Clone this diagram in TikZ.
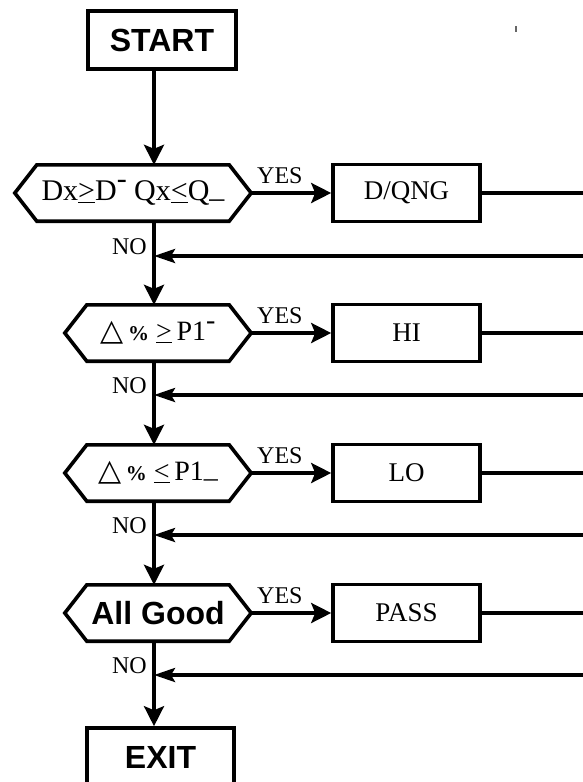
\documentclass[tikz,border=0pt]{standalone}
\usepackage{fontspec}
\setmainfont{Liberation Serif}
\newfontfamily\hsans{Liberation Sans}
\newfontfamily\symf{DejaVu Sans}
\usetikzlibrary{arrows.meta}
\newcommand\hexoutline[2]{\draw[ln,line join=miter] (#1.west) -- ([xshift=#2]#1.north west) -- ([xshift=-#2]#1.north east) -- (#1.east) -- ([xshift=-#2]#1.south east) -- ([xshift=#2]#1.south west) -- cycle;}
\newcommand\tri{{\symf\fontsize{30}{30}\selectfont △}}
\newcommand\pct{{\bfseries\fontsize{21}{21}\selectfont\%}}
\newcommand\hibar{\raisebox{.42em}{-}}
\newcommand\lobar{\raisebox{.12em}{\_}}
\begin{document}
\begin{tikzpicture}[x=1pt,y=-1pt,
  ln/.style={line width=3.6pt},
  arr/.style={ln,-{Stealth[length=20pt,width=20pt,inset=4pt]}},
  rarr/.style={ln,-{Stealth[length=21pt,width=14pt,inset=4pt]}},
  termbox/.style={draw,ln,minimum width=148pt,minimum height=58pt,inner sep=0pt,font=\hsans\bfseries\fontsize{32}{32}\selectfont},
  procbox/.style={draw,ln,minimum width=147pt,minimum height=57pt,inner sep=0pt,font=\fontsize{27}{27}\selectfont},
  hexnode/.style={inner sep=0pt,minimum height=56pt,font=\fontsize{28}{28}\selectfont},
  lab/.style={inner sep=0pt,font=\fontsize{24}{24}\selectfont}]
\useasboundingbox (0,0) rectangle (582,782);
% terminals
\node[termbox] (start) at (162,40) {START};
\node[termbox,minimum width=147pt] (exit) at (160.5,757) {EXIT};
% decisions
\node[hexnode,minimum width=236pt,font=\fontsize{30}{30}\selectfont] (d1) at (133,193) {Dx\underline{>}D\hibar\ Qx\underline{<}Q\lobar};
\node[hexnode,minimum width=186pt] (d2) at (158,333) {\tri\,\pct\ \underline{>}\,P1\hibar};
\node[hexnode,minimum width=186pt] (d3) at (158,473) {\tri\,\pct\ \underline{<}\,P1\lobar};
\node[hexnode,minimum width=186pt,font=\hsans\bfseries\fontsize{32}{32}\selectfont] (d4) at (158,613) {All Good};
\hexoutline{d1}{22pt}
\hexoutline{d2}{22pt}
\hexoutline{d3}{22pt}
\hexoutline{d4}{22pt}
% process boxes
\node[procbox] (b1) at (406.5,193) {D/QNG};
\node[procbox] (b2) at (406.5,333) {HI};
\node[procbox] (b3) at (406.5,473) {LO};
\node[procbox] (b4) at (406.5,613) {PASS};
% junctions on main line
\coordinate (j1) at (154,256);
\coordinate (j2) at (154,395);
\coordinate (j3) at (154,535);
\coordinate (j4) at (154,675);
% free ends at right edge
\coordinate (e1) at (592,193);
\coordinate (e2) at (592,333);
\coordinate (e3) at (592,473);
\coordinate (e4) at (592,613);
\coordinate (r1) at (592,256);
\coordinate (r2) at (592,395);
\coordinate (r3) at (592,535);
\coordinate (r4) at (592,675);
% main flow
\draw[arr] (start.south -| j1) -- (d1.north -| j1);
\draw[ln] (d1.south -| j1) -- (j1);
\draw[arr] (j1) -- (d2.north -| j1);
\draw[ln] (d2.south -| j2) -- (j2);
\draw[arr] (j2) -- (d3.north -| j2);
\draw[ln] (d3.south -| j3) -- (j3);
\draw[arr] (j3) -- (d4.north -| j3);
\draw[ln] (d4.south -| j4) -- (j4);
\draw[arr] (j4) -- (exit.north -| j4);
% yes branches
\draw[arr] (d1.east) -- (b1.west);
\draw[arr] (d2.east) -- (b2.west);
\draw[arr] (d3.east) -- (b3.west);
\draw[arr] (d4.east) -- (b4.west);
\draw[ln] (b1.east) -- (e1);
\draw[ln] (b2.east) -- (e2);
\draw[ln] (b3.east) -- (e3);
\draw[ln] (b4.east) -- (e4);
% returns
\draw[rarr] (r1) -- (j1);
\draw[rarr] (r2) -- (j2);
\draw[rarr] (r3) -- (j3);
\draw[rarr] (r4) -- (j4);
% labels
\node[lab,anchor=base west] (y1) at (257,183) {YES};
\node[lab,anchor=base west] (y2) at (257,323) {YES};
\node[lab,anchor=base west] (y3) at (257,463) {YES};
\node[lab,anchor=base west] (y4) at (257,603) {YES};
\node[lab,anchor=base east] (n1) at (147,254) {NO};
\node[lab,anchor=base east] (n2) at (147,393) {NO};
\node[lab,anchor=base east] (n3) at (147,533) {NO};
\node[lab,anchor=base east] (n4) at (147,673) {NO};
% stray mark
\fill[black!60] (514.5,26) rectangle (516.5,32);
\end{tikzpicture}
\end{document}
